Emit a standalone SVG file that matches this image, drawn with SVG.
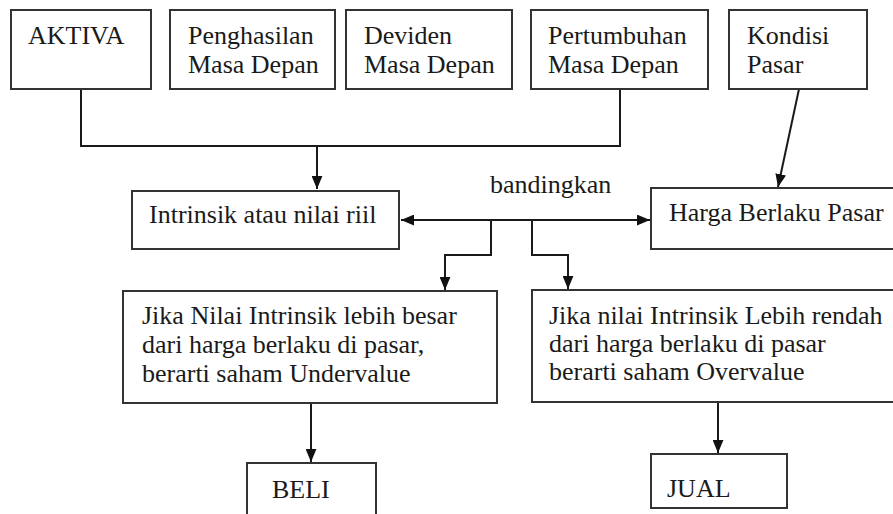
<svg xmlns="http://www.w3.org/2000/svg" width="893" height="514" viewBox="0 0 893 514" font-family="'Liberation Serif', serif" font-size="26">
<style>
  .box { fill: #fff; stroke: #333; stroke-width: 2; }
  .c { fill: none; stroke: #1a1a1a; stroke-width: 2; }
  .t { fill: #1a1a1a; }
</style>
<defs>
  <marker id="ah" markerUnits="userSpaceOnUse" markerWidth="13" markerHeight="11" refX="12" refY="5" orient="auto-start-reverse" viewBox="0 0 12 10">
    <path d="M0,0 L12,5 L0,10 z" fill="#111"/>
  </marker>
</defs>
<rect width="893" height="514" fill="#fff"/>
<g id="connectors">
  <path class="c" d="M81,89 V146 H621 M620,89 V146"/>
  <path class="c" d="M317,146 V189" marker-end="url(#ah)"/>
  <path class="c" d="M799,89 L778,187" marker-end="url(#ah)"/>
  <path class="c" d="M401,220 H650" marker-start="url(#ah)" marker-end="url(#ah)"/>
  <path class="c" d="M491,220 V255 H445 V290" marker-end="url(#ah)"/>
  <path class="c" d="M532,220 V255 H568 V289" marker-end="url(#ah)"/>
  <path class="c" d="M311,403 V462" marker-end="url(#ah)"/>
  <path class="c" d="M718,402 V453" marker-end="url(#ah)"/>
</g>
<g id="aktiva"><rect class="box" x="11" y="10" width="140" height="79"/><text class="t" x="28" y="44">AKTIVA</text></g>
<g id="penghasilan"><rect class="box" x="170" y="10" width="165" height="79"/><text class="t" x="188" y="44">Penghasilan</text><text class="t" x="188" y="73">Masa Depan</text></g>
<g id="deviden"><rect class="box" x="346" y="10" width="166" height="79"/><text class="t" x="364" y="44">Deviden</text><text class="t" x="364" y="73">Masa Depan</text></g>
<g id="pertumbuhan"><rect class="box" x="531" y="10" width="177" height="79"/><text class="t" x="548" y="44">Pertumbuhan</text><text class="t" x="548" y="73">Masa Depan</text></g>
<g id="kondisi"><rect class="box" x="729" y="10" width="138" height="79"/><text class="t" x="747" y="44">Kondisi</text><text class="t" x="747" y="73">Pasar</text></g>
<g id="intrinsik"><rect class="box" x="132" y="191" width="267" height="58"/><text class="t" x="149" y="223">Intrinsik atau nilai riil</text></g>
<g id="harga"><rect class="box" x="651" y="188" width="260" height="61"/><text class="t" x="669" y="221">Harga Berlaku Pasar</text></g>
<text id="bandingkan" class="t" x="490" y="193">bandingkan</text>
<g id="undervalue"><rect class="box" x="123" y="291" width="374" height="112"/><text class="t" x="142" y="324">Jika Nilai Intrinsik lebih besar</text><text class="t" x="142" y="353">dari harga berlaku di pasar,</text><text class="t" x="142" y="382">berarti saham Undervalue</text></g>
<g id="overvalue"><rect class="box" x="532" y="290" width="380" height="112"/><text class="t" x="549" y="324">Jika nilai Intrinsik Lebih rendah</text><text class="t" x="549" y="352">dari harga berlaku di pasar</text><text class="t" x="549" y="380">berarti saham Overvalue</text></g>
<g id="beli"><rect class="box" x="247" y="463" width="129" height="70"/><text class="t" x="272" y="498">BELI</text></g>
<g id="jual"><rect class="box" x="651" y="454" width="136" height="54"/><text class="t" x="667" y="497">JUAL</text></g>
</svg>
